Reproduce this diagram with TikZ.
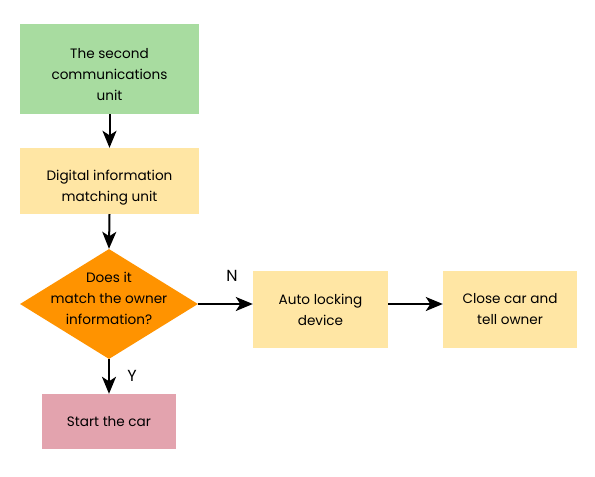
\documentclass[tikz,border=0pt]{standalone}
\usepackage{fontspec}
\setmainfont{Poppins}
\usetikzlibrary{shapes.geometric,arrows.meta}
\definecolor{cgreen}{HTML}{A8DCA0}
\definecolor{cyellow}{HTML}{FFE6A4}
\definecolor{corange}{HTML}{FF9300}
\definecolor{cpink}{HTML}{E3A3AE}
\tikzset{
  box/.style={draw=none, inner sep=0pt},
  dia/.style={diamond, draw=none, fill=corange, inner sep=0pt, minimum width=178pt, minimum height=110pt},
  txt/.style={inner sep=0pt, align=center, font=\fontsize{13.6}{21}\selectfont},
  lbl/.style={inner sep=0pt, font=\fontsize{16}{18}\selectfont},
  arr/.style={line width=2pt, -{Stealth[length=17pt,width=14pt,inset=4.5pt]}},
}
\begin{document}
\begin{tikzpicture}[x=1pt,y=-1pt]
\useasboundingbox (0,0) rectangle (595,477);
\node[box, fill=cgreen, minimum width=179pt, minimum height=90pt] (a) at (109.5,69) {};
\node[txt] (at) at (109.5,75) {The second\\communications\\unit};
\node[box, fill=cyellow, minimum width=179pt, minimum height=66pt] (b) at (109.5,181) {};
\node[txt] (bt) at (109.5,188) {Digital information\\matching unit};
\node[dia] (c) at (109,304) {};
\node[txt] (ct) at (109,298) {Does it\\match the owner\\information?};
\node[box, fill=cpink, minimum width=134pt, minimum height=55pt] (d) at (109,421.5) {};
\node[txt] (dt) at (d.center) {Start the car};
\node[box, fill=cyellow, minimum width=135pt, minimum height=77pt] (e) at (320.5,309.5) {};
\node[txt] (et) at (e.center) {Auto locking\\device};
\node[box, fill=cyellow, minimum width=134pt, minimum height=77pt] (f) at (510,309.5) {};
\node[txt] (ft) at (f.center) {Close car and\\tell owner};
\draw[arr] (a.south) -- (b.north);
\draw[arr] (b.south) -- (c.north);
\draw[arr] (c.south) -- (d.north);
\draw[arr] (c.east) -- (c.east -| e.west);
\draw[arr] (e.east |- c.east) -- (f.west |- c.east);
\node[lbl] (n) at (232,276) {N};
\node[lbl] (y) at (132,376) {Y};
\end{tikzpicture}
\end{document}
